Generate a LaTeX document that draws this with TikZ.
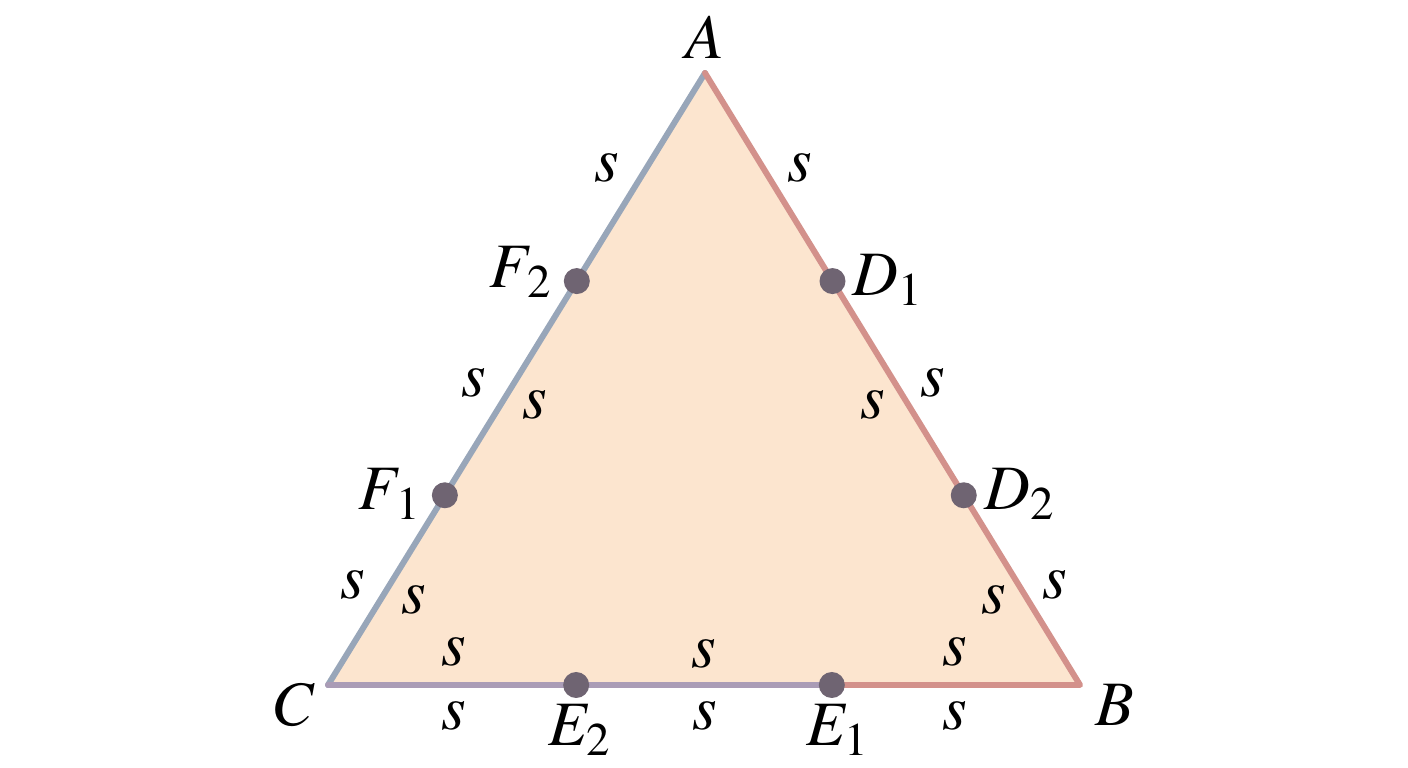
\documentclass[tikz,border=0pt]{standalone}
\usepackage{amsmath}
\usepackage{mathptmx}
\usetikzlibrary{calc}
\definecolor{fillc}{HTML}{FCE5CF}
\definecolor{leftc}{HTML}{98A6B9}
\definecolor{rightc}{HTML}{D3918B}
\definecolor{botc}{HTML}{AA9CB6}
\definecolor{dotc}{HTML}{6F6472}

\begin{document}
\begin{tikzpicture}[line width=1.7pt,line cap=round,line join=round,lab/.style={font=\fontsize{18}{20}\selectfont,inner sep=1pt},pt/.style={fill=dotc}]
\useasboundingbox (0,0) rectangle (14.08,7.68);
\coordinate (A) at (7.05,6.95);
\coordinate (B) at (10.80,0.83);
\coordinate (C) at (3.28,0.83);
\coordinate (F2) at ($(A)!0.34!(C)$);
\coordinate (F1) at ($(A)!0.69!(C)$);
\coordinate (D1) at ($(A)!0.34!(B)$);
\coordinate (D2) at ($(A)!0.69!(B)$);
\coordinate (E2) at ($(C)!0.33!(B)$);
\coordinate (E1) at ($(C)!0.67!(B)$);
\fill[fillc] (A) -- (B) -- (C) -- cycle;
\draw[color=leftc] (C) -- (A);
\draw[color=rightc] (A) -- (B) -- (E1);
\draw[color=botc] (E1) -- (C);
\foreach \p in {F1,F2,D1,D2,E1,E2}{\fill[pt] (\p) circle(0.13cm);};
\node[lab] (lA) at (7.05,7.31) {$A$};
\node[lab] (lB) at (11.15,0.63) {$B$};
\node[lab] (lC) at (2.95,0.63) {$C$};
\node[lab] (lF2) at (5.21,4.96) {$F_{\,2}$};
\node[lab] (lF1) at (3.90,2.74) {$F_{\,1}$};
\node[lab] (lD1) at (8.88,4.88) {$D_1$};
\node[lab] (lD2) at (10.20,2.74) {$D_2$};
\node[lab] (lE2) at (5.80,0.38) {$E_2$};
\node[lab] (lE1) at (8.38,0.38) {$E_1$};
\foreach \x/\y [count=\i] in {6.07/6.00,8.00/6.00,4.74/3.85,5.35/3.63,9.33/3.85,8.73/3.63,3.53/1.83,4.14/1.68,4.54/1.16,9.94/1.68,10.55/1.83,9.55/1.16,7.04/1.14,4.54/0.52,7.05/0.52,9.55/0.52}{\node[lab] (s\i) at (\x,\y) {$s$};};
\end{tikzpicture}
\end{document}
